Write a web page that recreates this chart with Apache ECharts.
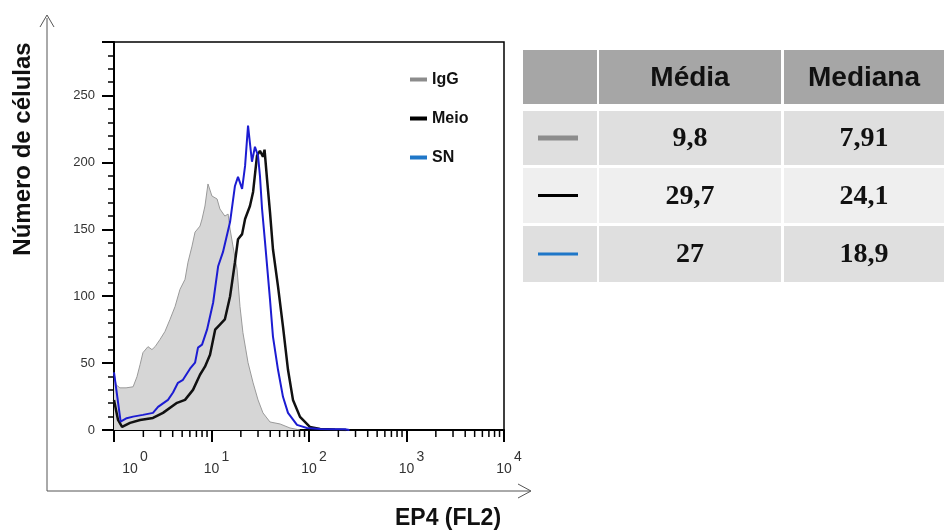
<!DOCTYPE html>
<html>
<head>
<meta charset="utf-8">
<script src="https://cdn.jsdelivr.net/npm/echarts@6/dist/echarts.min.js"></script>
<style>
  html, body { margin: 0; background: #fff; }
  #chart { width: 944px; height: 530px; }
</style>
</head>
<body>
<div id="chart"></div>
<script>
// histogram outlines: [fluorescence, cell count]
const igg = [
  [1.00, 42.8], [1.05, 33.8], [1.15, 31.5], [1.33, 31.5], [1.57, 32.3], [1.72, 39.8],
  [1.85, 48.8], [1.98, 57.8], [2.23, 62.3], [2.45, 60.1], [2.64, 62.3], [2.96, 67.6],
  [3.33, 73.6], [3.75, 82.6], [4.23, 92.3], [4.75, 105.1], [5.35, 112.6], [5.74, 125.4],
  [6.31, 137.4], [6.78, 147.9], [7.62, 152.4], [8.0, 157.7], [8.57, 167.4], [9.2, 183.9],
  [10.1, 174.9], [11.4, 172.7], [12.2, 165.2], [13.7, 159.9], [14.8, 161.4], [15.5, 150.2],
  [16.6, 137.4], [18.3, 120.1], [19.6, 92.3], [21.0, 72.8], [23.7, 50.3], [26.7, 35.3],
  [30.0, 22.5], [33.7, 12.8], [39.8, 6.0], [50.5, 4.5], [63.8, 1.5], [80.9, 0]
];
const meio = [
  [1.00, 22.5], [1.10, 7.5], [1.21, 2.3], [1.46, 5.3], [1.85, 7.5], [2.51, 9.0],
  [3.18, 12.8], [4.43, 20.3], [5.35, 22.5], [6.46, 30.0], [7.62, 41.3], [8.57, 47.3],
  [9.66, 56.3], [10.9, 75.0], [12.2, 78.8], [13.7, 82.6], [15.5, 99.8], [17.4, 125.4],
  [18.7, 142.6], [20.6, 146.4], [22.1, 157.7], [24.8, 167.4], [26.7, 177.9], [29.3, 205.0],
  [31.4, 208.7], [33.7, 204.2], [35.0, 209.5], [37.1, 187.7], [39.8, 162.9], [42.7, 135.1],
  [48.1, 107.4], [54.1, 77.3], [60.9, 45.0], [68.5, 22.5], [80.9, 9.8], [102, 2.3],
  [130, 0.8], [185, 0.3], [240, 0]
];
const sn = [
  [1.00, 43.0], [1.17, 6.2], [1.35, 8.8], [1.57, 10.0], [1.98, 11.3], [2.51, 12.8],
  [2.83, 17.3], [3.58, 22.5], [4.03, 28.0], [4.53, 35.3], [5.10, 37.5], [6.02, 45.8],
  [6.78, 50.3], [7.27, 61.6], [8.0, 63.8], [9.0, 75.0], [10.4, 95.3], [11.7, 122.4],
  [13.1, 132.9], [15.5, 155.4], [17.4, 182.4], [18.7, 189.2], [20.6, 180.2], [22.1, 197.4],
  [23.7, 227.5], [26.0, 200.5], [27.9, 211.7], [30.0, 205.0], [31.4, 190.0], [33.0, 165.2],
  [35.4, 140.4], [39.8, 97.6], [42.7, 69.8], [48.1, 45.0], [54.1, 24.8], [60.9, 12.8],
  [75.3, 3.8], [95.3, 1.5], [130, 0.8], [234, 0.5], [260, 0]
];

const legendNames = ['IgG', 'Meio', 'SN'];
const yTickLabels = [0, 50, 100, 150, 200, 250];
const decades = [0, 1, 2, 3, 4];

// table on the right
const tableHeader = ['', 'Média', 'Mediana'];
const mediaVals = ['9,8', '29,7', '27'];
const medianaVals = ['7,91', '24,1', '18,9'];
const rowMarkColors = ['#8c8c8c', '#000000', '#1f77c8'];

const chart = echarts.init(document.getElementById('chart'));

// minor ticks 2..9 of every decade for the log axis
const minorX = [];
decades.slice(0, -1).forEach(d => {
  for (let k = 2; k <= 9; k++) minorX.push([k * Math.pow(10, d), 0]);
});

// table graphics
const colX = [[523, 597], [599, 781], [784, 944]];
const rowY = [[50, 104], [111, 165], [168, 223], [226, 282]];
const rowFill = ['#a6a6a6', '#dfdfdf', '#efefef', '#dfdfdf'];
const tableEls = [];
rowY.forEach((r, ri) => {
  colX.forEach((c, ci) => {
    tableEls.push({
      type: 'rect', silent: true,
      shape: { x: c[0], y: r[0], width: c[1] - c[0], height: r[1] - r[0] },
      style: { fill: rowFill[ri] }
    });
  });
});
tableHeader.forEach((t, ci) => {
  if (!t) return;
  tableEls.push({
    type: 'text', silent: true,
    x: (colX[ci][0] + colX[ci][1]) / 2, y: (rowY[0][0] + rowY[0][1]) / 2 + 1,
    style: { text: t, fill: '#111', font: 'bold 28px "Liberation Sans"', align: 'center', verticalAlign: 'middle' }
  });
});
rowMarkColors.forEach((col, i) => {
  const r = rowY[i + 1];
  const yc = (r[0] + r[1]) / 2;
  tableEls.push({
    type: 'line', silent: true,
    shape: { x1: 538, y1: yc, x2: 578, y2: yc },
    style: { stroke: col, lineWidth: i === 0 ? 5 : 3 }
  });
  [mediaVals[i], medianaVals[i]].forEach((v, k) => {
    tableEls.push({
      type: 'text', silent: true,
      x: (colX[k + 1][0] + colX[k + 1][1]) / 2, y: yc + 1,
      style: { text: v, fill: '#111', font: 'bold 28px "Liberation Serif"', align: 'center', verticalAlign: 'middle' }
    });
  });
});

const option = {
  animation: false,
  backgroundColor: '#fff',
  grid: { left: 114, right: 440, top: 42, bottom: 100, show: true, borderColor: '#000', borderWidth: 1.5 },
  legend: {
    left: 405, top: 66, orient: 'vertical', icon: 'rect',
    itemWidth: 17, itemHeight: 4, itemGap: 22,
    textStyle: { fontFamily: 'Liberation Sans', fontWeight: 'bold', fontSize: 16, color: '#111', lineHeight: 17 },
    data: [
      { name: 'IgG', itemStyle: { color: '#8c8c8c' } },
      { name: 'Meio', itemStyle: { color: '#000' } },
      { name: 'SN', itemStyle: { color: '#1f77c8' } }
    ]
  },
  xAxis: {
    type: 'log', logBase: 10, min: 1, max: 10000, splitNumber: 4,
    axisLine: { lineStyle: { color: '#000', width: 2 } },
    axisTick: { length: 12, lineStyle: { color: '#000', width: 2 } },
    splitLine: { show: false },
    axisLabel: {
      margin: 20, color: '#333',
      formatter: v => {
        const e = Math.round(Math.log10(v));
        return e === 0 ? '{b0|10}{s|0}' : '{b|10}{s|' + e + '}';
      },
      rich: {
        b: { fontFamily: 'Liberation Sans', fontSize: 14, color: '#333', lineHeight: 26, verticalAlign: 'bottom', padding: [0, 2, 0, 10] },
        b0: { fontFamily: 'Liberation Sans', fontSize: 14, color: '#333', lineHeight: 26, verticalAlign: 'bottom', padding: [0, 2, 0, 42] },
        s: { fontFamily: 'Liberation Sans', fontSize: 14, color: '#333', lineHeight: 26, verticalAlign: 'top' }
      }
    }
  },
  yAxis: [{
    type: 'value', min: 0, max: 290, interval: 50,
    axisLine: { show: true, lineStyle: { color: '#000', width: 2 } },
    axisTick: { show: true, length: 12, lineStyle: { color: '#000', width: 2 } },
    splitLine: { show: false },
    axisLabel: {
      margin: 19, color: '#333', fontFamily: 'Liberation Sans', fontSize: 13,
      formatter: v => (yTickLabels.indexOf(v) >= 0 ? String(v) : '')
    }
  }, {
    type: 'value', min: 0, max: 290, interval: 10, position: 'left',
    axisLine: { show: false },
    axisTick: { show: true, length: 6, lineStyle: { color: '#000', width: 1.5 } },
    axisLabel: { show: false },
    splitLine: { show: false }
  }],
  series: [
    {
      name: 'IgG', type: 'line', data: igg, showSymbol: false, z: 2,
      itemStyle: { color: '#8c8c8c' },
      lineStyle: { color: '#9a9a9a', width: 1 },
      areaStyle: { color: '#d6d6d6', opacity: 1 }
    },
    {
      name: 'Meio', type: 'line', data: meio, showSymbol: false, z: 3,
      itemStyle: { color: '#000' },
      lineStyle: { color: '#111', width: 2.5 }
    },
    {
      name: 'SN', type: 'line', data: sn, showSymbol: false, z: 4,
      itemStyle: { color: '#1c1cd2' },
      lineStyle: { color: '#1c1cd2', width: 2 }
    },
    {
      name: 'minorX', type: 'custom', data: minorX, clip: false, silent: true, z: 5,
      renderItem: (params, api) => {
        const p = api.coord([api.value(0), 0]);
        return { type: 'line', shape: { x1: p[0], y1: p[1], x2: p[0], y2: p[1] + 7 }, style: { stroke: '#000', lineWidth: 1.5 } };
      }
    }
  ],
  graphic: [
    // outer arrows
    { type: 'polyline', silent: true, shape: { points: [[47, 18], [47, 491], [530, 491]] }, style: { stroke: '#555', lineWidth: 1, fill: null } },
    { type: 'polyline', silent: true, shape: { points: [[40, 27], [47, 15], [54, 27]] }, style: { stroke: '#555', lineWidth: 1, fill: null } },
    { type: 'polyline', silent: true, shape: { points: [[518, 484], [531, 491], [518, 498]] }, style: { stroke: '#555', lineWidth: 1, fill: null } },
    {
      type: 'text', silent: true, x: 23, y: 149, rotation: Math.PI / 2,
      style: { text: 'Número de células', fill: '#111', font: 'bold 24px "Liberation Sans"', align: 'center', verticalAlign: 'middle' }
    },
    {
      type: 'text', silent: true, x: 448, y: 519,
      style: { text: 'EP4 (FL2)', fill: '#111', font: 'bold 23px "Liberation Sans"', align: 'center', verticalAlign: 'middle' }
    }
  ].concat(tableEls)
};

chart.setOption(option);
</script>
</body>
</html>
